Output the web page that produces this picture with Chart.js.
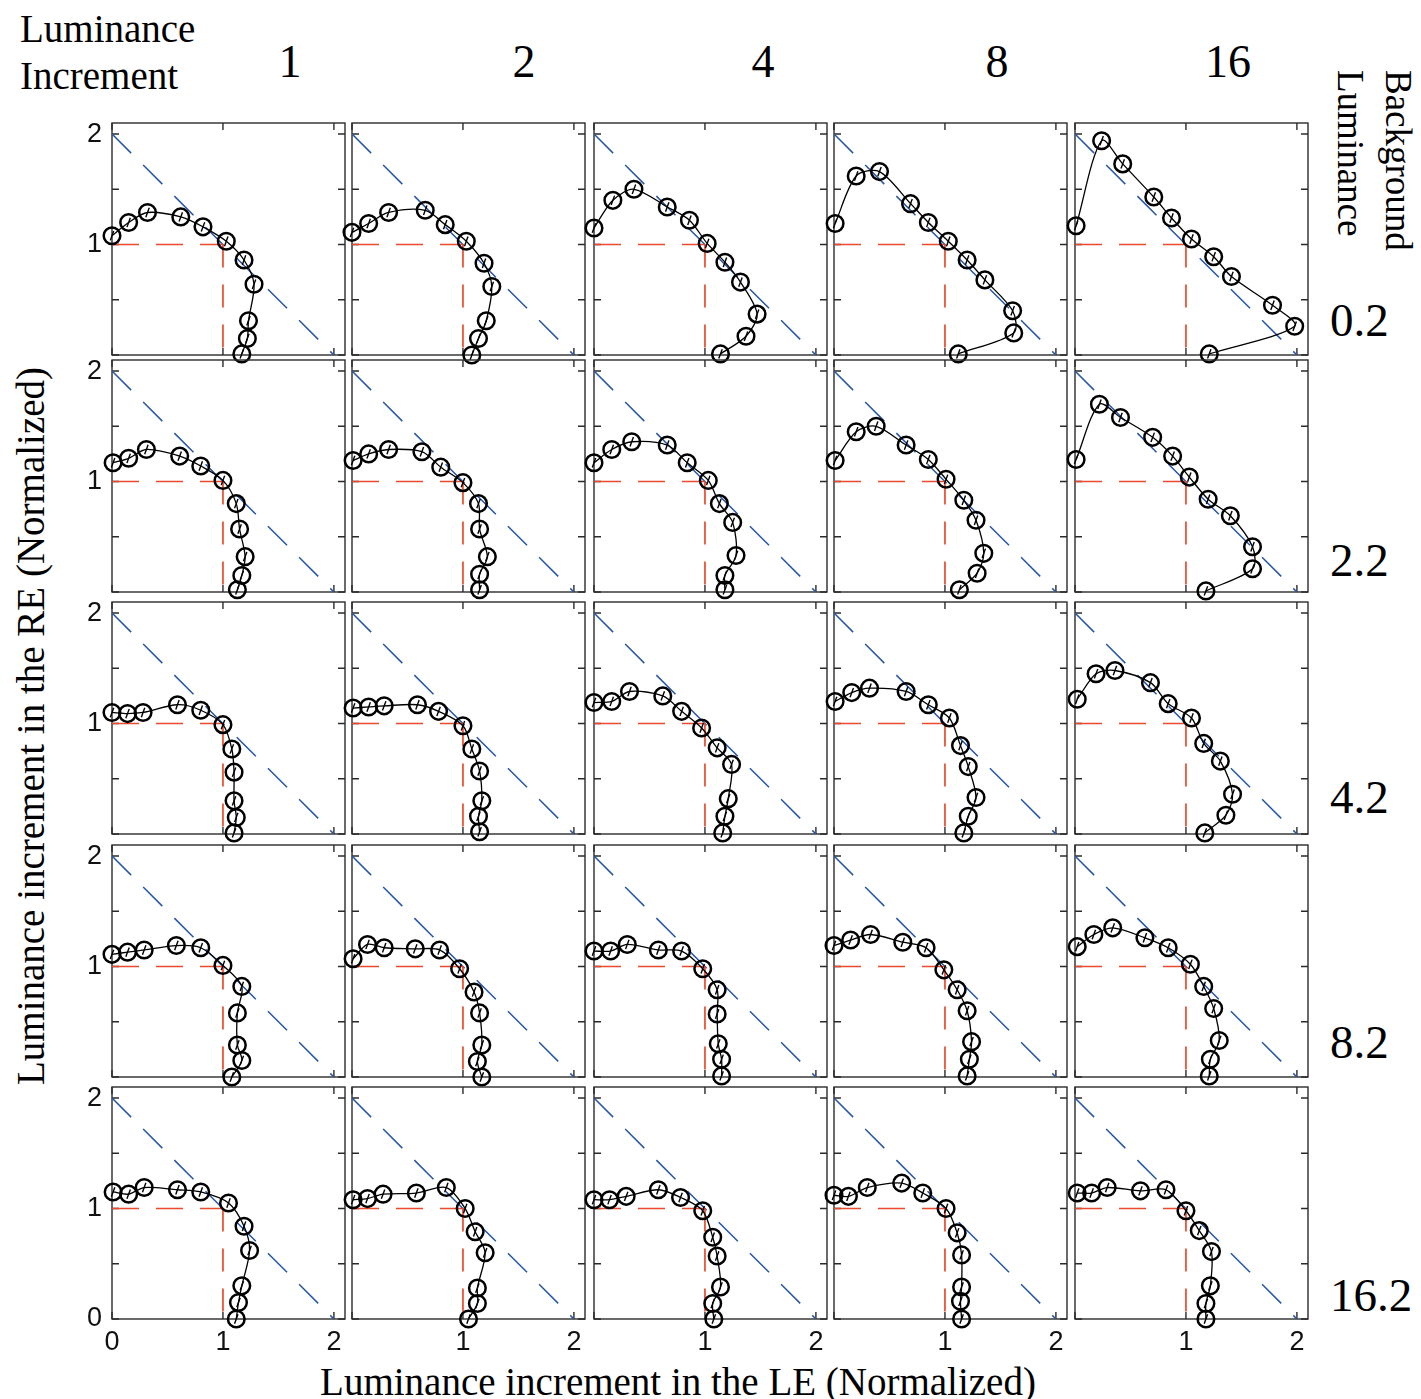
<!DOCTYPE html>
<html>
<head>
<meta charset="utf-8">
<script src="https://cdn.jsdelivr.net/npm/chart.js@4.4.1/dist/chart.umd.min.js"></script>
<style>
  body { margin: 0; background: #fff; }
  #fig { position: relative; width: 1421px; height: 1399px; overflow: hidden; background: #fff;
         font-family: 'Liberation Serif', 'Times New Roman', serif; color: #000; }
  .panel { position: absolute; }
  .lbl { position: absolute; white-space: nowrap; line-height: 1; }
  .ctr { transform: translate(-50%, -50%); }
</style>
</head>
<body>
<div id="fig">
  <div class="lbl" style="left:20px; top:9px; font-size:39px;">Luminance</div>
  <div class="lbl" style="left:20px; top:56px; font-size:39px;">Increment</div>
  <div class="lbl" style="left:1422px; top:70px; font-size:37px; line-height:48px; transform-origin:0 0; transform:rotate(90deg);">Background<br>Luminance</div>
  <div class="lbl ctr" style="left:678px; top:1381px; font-size:39px;">Luminance increment in the LE (Normalized)</div>
  <div class="lbl" style="left:30px; top:726px; font-size:39px; transform:translate(-50%,-50%) rotate(-90deg);">Luminance increment in the RE (Normalized)</div>
</div>

<script>
// column headers = luminance increment, row labels = background luminance
const incrementSteps = ['1', '2', '4', '8', '16'];
const bgLuminance = ['0.2', '2.2', '4.2', '8.2', '16.2'];

// LE (x) / RE (y) values, one list per increment column
const leBg02 = [
  [0.00, 0.15, 0.32, 0.62, 0.82, 1.03, 1.19, 1.28, 1.23, 1.22, 1.17],
  [0.00, 0.15, 0.33, 0.66, 0.84, 1.03, 1.19, 1.26, 1.21, 1.14, 1.08],
  [0.00, 0.17, 0.36, 0.66, 0.86, 1.02, 1.18, 1.32, 1.47, 1.37, 1.14],
  [0.01, 0.20, 0.41, 0.69, 0.85, 1.03, 1.20, 1.36, 1.61, 1.62, 1.12],
  [0.01, 0.24, 0.43, 0.71, 0.87, 1.05, 1.25, 1.41, 1.78, 1.98, 1.21]
];
const reBg02 = [
  [1.08, 1.20, 1.29, 1.25, 1.16, 1.03, 0.86, 0.64, 0.31, 0.15, 0.01],
  [1.11, 1.19, 1.29, 1.31, 1.18, 1.03, 0.83, 0.62, 0.31, 0.15, 0.00],
  [1.15, 1.40, 1.50, 1.34, 1.22, 1.01, 0.84, 0.66, 0.37, 0.17, 0.01],
  [1.19, 1.62, 1.66, 1.37, 1.20, 1.03, 0.86, 0.68, 0.40, 0.20, 0.01],
  [1.17, 1.94, 1.73, 1.43, 1.24, 1.05, 0.89, 0.71, 0.45, 0.26, 0.01]
];

const leBg22 = [
  [0.01, 0.15, 0.31, 0.61, 0.80, 1.00, 1.12, 1.15, 1.20, 1.17, 1.13],
  [0.01, 0.15, 0.33, 0.63, 0.80, 1.00, 1.14, 1.15, 1.22, 1.15, 1.15],
  [0.00, 0.16, 0.34, 0.66, 0.84, 1.03, 1.13, 1.25, 1.28, 1.18, 1.18],
  [0.01, 0.20, 0.38, 0.65, 0.85, 1.01, 1.17, 1.28, 1.35, 1.29, 1.13],
  [0.01, 0.22, 0.41, 0.70, 0.88, 1.03, 1.20, 1.40, 1.60, 1.60, 1.18]
];
const reBg22 = [
  [1.17, 1.21, 1.29, 1.23, 1.14, 1.01, 0.80, 0.57, 0.32, 0.15, 0.02],
  [1.19, 1.25, 1.29, 1.27, 1.13, 0.99, 0.80, 0.57, 0.32, 0.16, 0.02],
  [1.17, 1.29, 1.36, 1.33, 1.17, 1.01, 0.80, 0.63, 0.33, 0.15, 0.02],
  [1.19, 1.45, 1.50, 1.33, 1.20, 1.02, 0.83, 0.65, 0.35, 0.17, 0.02],
  [1.20, 1.70, 1.58, 1.40, 1.23, 1.04, 0.84, 0.69, 0.41, 0.21, 0.01]
];

const leBg42 = [
  [0.00, 0.14, 0.28, 0.59, 0.80, 1.00, 1.08, 1.10, 1.10, 1.12, 1.10],
  [0.01, 0.15, 0.29, 0.59, 0.78, 1.00, 1.08, 1.15, 1.17, 1.14, 1.15],
  [0.00, 0.16, 0.32, 0.62, 0.79, 0.97, 1.11, 1.24, 1.21, 1.18, 1.16],
  [0.01, 0.16, 0.32, 0.65, 0.85, 1.04, 1.14, 1.21, 1.28, 1.21, 1.17],
  [0.02, 0.19, 0.36, 0.68, 0.84, 1.05, 1.16, 1.31, 1.42, 1.36, 1.17]
];
const reBg42 = [
  [1.10, 1.09, 1.10, 1.17, 1.12, 0.99, 0.77, 0.56, 0.30, 0.15, 0.01],
  [1.14, 1.15, 1.16, 1.17, 1.11, 0.98, 0.77, 0.57, 0.30, 0.16, 0.02],
  [1.19, 1.20, 1.29, 1.25, 1.11, 0.96, 0.78, 0.63, 0.32, 0.16, 0.01],
  [1.20, 1.28, 1.32, 1.29, 1.17, 1.05, 0.80, 0.61, 0.33, 0.16, 0.01],
  [1.22, 1.45, 1.48, 1.37, 1.18, 1.05, 0.82, 0.66, 0.36, 0.17, 0.01]
];

const leBg82 = [
  [0.00, 0.14, 0.29, 0.58, 0.80, 1.00, 1.17, 1.13, 1.13, 1.17, 1.08],
  [0.01, 0.14, 0.29, 0.57, 0.79, 0.97, 1.10, 1.15, 1.17, 1.13, 1.17],
  [0.00, 0.15, 0.30, 0.58, 0.79, 0.98, 1.11, 1.11, 1.12, 1.15, 1.15],
  [0.00, 0.15, 0.33, 0.62, 0.83, 0.99, 1.11, 1.20, 1.24, 1.22, 1.20],
  [0.02, 0.17, 0.34, 0.63, 0.84, 1.04, 1.16, 1.25, 1.30, 1.22, 1.21]
];
const reBg82 = [
  [1.11, 1.13, 1.15, 1.19, 1.17, 1.01, 0.82, 0.58, 0.29, 0.15, 0.00],
  [1.07, 1.20, 1.17, 1.16, 1.15, 0.98, 0.77, 0.58, 0.29, 0.14, 0.00],
  [1.14, 1.14, 1.20, 1.15, 1.14, 0.98, 0.79, 0.57, 0.30, 0.16, 0.01],
  [1.19, 1.24, 1.29, 1.22, 1.17, 0.97, 0.79, 0.60, 0.32, 0.16, 0.01],
  [1.18, 1.29, 1.35, 1.26, 1.17, 1.02, 0.82, 0.62, 0.33, 0.16, 0.01]
];

const leBg162 = [
  [0.01, 0.15, 0.29, 0.59, 0.80, 1.05, 1.19, 1.24, 1.17, 1.14, 1.12],
  [0.01, 0.14, 0.28, 0.58, 0.85, 1.02, 1.11, 1.20, 1.13, 1.13, 1.05],
  [0.00, 0.14, 0.29, 0.58, 0.78, 0.98, 1.07, 1.11, 1.14, 1.07, 1.08],
  [0.00, 0.13, 0.30, 0.61, 0.80, 1.01, 1.11, 1.15, 1.15, 1.14, 1.15],
  [0.02, 0.15, 0.29, 0.59, 0.82, 1.00, 1.12, 1.23, 1.22, 1.18, 1.18]
];
const reBg162 = [
  [1.15, 1.13, 1.19, 1.17, 1.15, 1.05, 0.84, 0.62, 0.30, 0.15, 0.00],
  [1.08, 1.09, 1.13, 1.14, 1.19, 1.00, 0.79, 0.60, 0.28, 0.14, 0.00],
  [1.08, 1.08, 1.11, 1.17, 1.10, 0.98, 0.74, 0.57, 0.29, 0.14, 0.00],
  [1.12, 1.11, 1.19, 1.23, 1.14, 1.00, 0.78, 0.58, 0.29, 0.16, 0.00],
  [1.14, 1.14, 1.19, 1.16, 1.17, 0.98, 0.80, 0.61, 0.30, 0.14, 0.00]
];

// reference lines: LE + RE = 2, and the unit corner
const sumLine = [[0, 2], [2, 0]];
const unitH = [[0, 1], [1, 1]];
const unitV = [[1, 1], [1, 0]];

const leRows = [leBg02, leBg22, leBg42, leBg82, leBg162];
const reRows = [reBg02, reBg22, reBg42, reBg82, reBg162];

// panel placement (page px)
const colLeft = [112, 352, 594, 834, 1075];
const rowBottom = [355, 592, 834, 1077, 1319];
const colHeadX = [290, 524, 763, 997, 1228];
const rowLabelY = [320, 560, 797, 1042, 1295];
const PW = 233, PH = 232;
const ML = 50, MT = 12, MR = 12, MB = 45;

const fig = document.getElementById('fig');

incrementSteps.forEach((s, i) => {
  const d = document.createElement('div');
  d.className = 'lbl ctr';
  d.style.cssText = `left:${colHeadX[i]}px; top:62px; font-size:46px;`;
  d.textContent = s;
  fig.appendChild(d);
});
bgLuminance.forEach((s, i) => {
  const d = document.createElement('div');
  d.className = 'lbl';
  d.style.cssText = `left:1330px; top:${rowLabelY[i]}px; font-size:47px; transform:translateY(-50%);`;
  d.textContent = s;
  fig.appendChild(d);
});

// box with inward ticks on all four sides
const framePlugin = {
  id: 'frame',
  beforeDatasetsDraw(chart) {
    const { ctx, chartArea: a, scales: { x, y } } = chart;
    const tl = 7;
    ctx.save();
    ctx.strokeStyle = '#2b2b2b';
    ctx.lineWidth = 1.4;
    ctx.strokeRect(a.left, a.top, a.right - a.left, a.bottom - a.top);
    ctx.beginPath();
    x.ticks.forEach(t => {
      const p = x.getPixelForValue(t.value);
      ctx.moveTo(p, a.bottom); ctx.lineTo(p, a.bottom - tl);
      ctx.moveTo(p, a.top); ctx.lineTo(p, a.top + tl);
    });
    y.ticks.forEach(t => {
      const p = y.getPixelForValue(t.value);
      ctx.moveTo(a.left, p); ctx.lineTo(a.left + tl, p);
      ctx.moveTo(a.right, p); ctx.lineTo(a.right - tl, p);
    });
    ctx.stroke();
    ctx.restore();
  }
};

const toPts = pairs => pairs.map(([x, y]) => ({ x, y }));

// keep every plot box the same size, whether or not it carries labels
function fixBox(size, key) {
  return ax => {
    ax[key] = size;
    ax.paddingTop = 0; ax.paddingBottom = 0;
    ax.paddingLeft = 0; ax.paddingRight = 0;
  };
}

function drawPanel(r, c) {
  const canvas = document.createElement('canvas');
  const w = PW + ML + MR, h = PH + MT + MB;
  canvas.width = w; canvas.height = h;
  canvas.className = 'panel';
  canvas.style.left = (colLeft[c] - ML) + 'px';
  canvas.style.top = (rowBottom[r] - PH - MT) + 'px';
  canvas.style.width = w + 'px';
  canvas.style.height = h + 'px';
  fig.appendChild(canvas);

  const pts = leRows[r][c].map((x, i) => ({ x, y: reRows[r][c][i] }));
  const tickFont = { family: "'Liberation Sans', Arial, sans-serif", size: 27 };

  new Chart(canvas, {
    type: 'scatter',
    data: {
      datasets: [
        {
          data: pts, showLine: true, tension: 0.3, clip: false, order: 0,
          borderColor: '#000', borderWidth: 1.3,
          pointRadius: 8.3, pointBorderWidth: 2.5, pointBorderColor: '#000',
          pointBackgroundColor: 'rgba(0,0,0,0)'
        },
        {
          data: pts, showLine: false, clip: false, order: 1,
          pointStyle: 'line', rotation: -70, pointRadius: 5,
          pointBorderWidth: 1.4, pointBorderColor: '#000'
        },
        {
          data: toPts(sumLine), showLine: true, order: 3, pointRadius: 0,
          borderColor: '#2656a6', borderWidth: 1.5, borderDash: [27, 17]
        },
        {
          data: toPts(unitH), showLine: true, order: 2, pointRadius: 0,
          borderColor: '#ec4a2c', borderWidth: 1.7, borderDash: [27, 17]
        },
        {
          data: toPts(unitV), showLine: true, order: 2, pointRadius: 0,
          borderColor: '#ec4a2c', borderWidth: 1.7, borderDash: [23, 17]
        }
      ]
    },
    options: {
      responsive: false,
      animation: false,
      devicePixelRatio: 1,
      layout: { padding: { top: MT, right: MR, left: 0, bottom: 0 }, autoPadding: false },
      plugins: { legend: { display: false }, tooltip: { enabled: false } },
      scales: {
        x: {
          type: 'linear', min: 0, max: 2.1,
          grid: { display: false, drawTicks: false },
          border: { display: false },
          afterFit: fixBox(MB, 'height'),
          ticks: {
            display: r === 4, stepSize: 1, includeBounds: false, autoSkip: false,
            maxRotation: 0, padding: 7, color: '#111', font: tickFont,
            callback: v => (c === 0 || v > 0) ? String(v) : ''
          }
        },
        y: {
          type: 'linear', min: 0, max: 2.1,
          grid: { display: false, drawTicks: false },
          border: { display: false },
          afterFit: fixBox(ML, 'width'),
          ticks: {
            display: c === 0, stepSize: 0.5, includeBounds: false, autoSkip: false,
            padding: 10, color: '#111', font: tickFont,
            callback: v => (Number.isInteger(v) && (r === 4 || v > 0)) ? String(v) : ''
          }
        }
      }
    },
    plugins: [framePlugin]
  });
}

for (let r = 0; r < 5; r++) {
  for (let c = 0; c < 5; c++) drawPanel(r, c);
}
</script>
</body>
</html>
